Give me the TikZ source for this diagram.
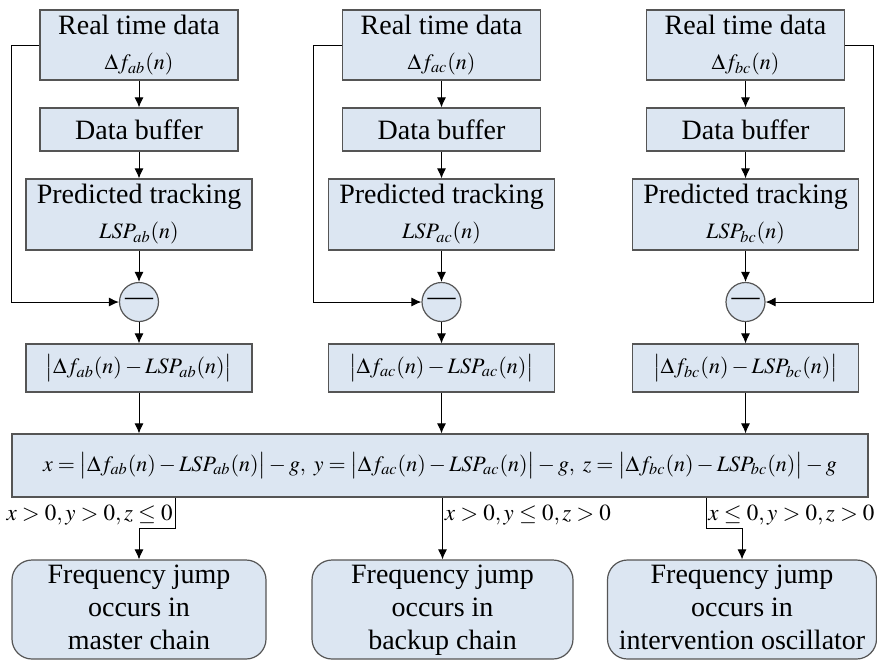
\documentclass[tikz,border=0pt]{standalone}
\usepackage{mathptmx}
\usepackage[no-math]{fontspec}
\setmainfont{Liberation Serif}
\usepackage{amssymb}
\usepackage{tikz}
\usetikzlibrary{arrows.meta}
\definecolor{boxfill}{RGB}{220,230,242}
\definecolor{boxline}{RGB}{85,85,85}

% formulas are set smaller than the running text
\newcommand{\eqsize}{\fontsize{11pt}{13pt}\selectfont}
\newcommand{\condsize}{\fontsize{11.5pt}{13pt}\selectfont}

\tikzset{
	blk/.style={draw=boxline, fill=boxfill, line width=0.6pt, align=center, inner sep=0pt},
	endblk/.style={blk, rounded corners=10pt},
	minus/.style={circle, draw=boxline, fill=boxfill, line width=0.6pt, minimum size=19.5pt, inner sep=0pt},
	arr/.style={-{Latex[length=5pt,width=4.5pt]}, line width=0.5pt},
	cond/.style={inner sep=1pt, font=\condsize}
}

\begin{document}
\begin{tikzpicture}[x=0.5pt, y=-0.5pt, font=\fontsize{14pt}{16.5pt}\selectfont]
	\useasboundingbox (0,0) rectangle (877,660);

	% channel ab
	\node[blk, minimum width=99pt, minimum height=35pt] (rt1) at (139,45) {Real time data\\[1pt] {\eqsize$\Delta f_{ab}(n)$}};
	\node[blk, minimum width=99pt, minimum height=21.5pt] (buf1) at (139,129.5) {Data buffer};
	\node[blk, minimum width=113pt, minimum height=35.5pt] (pt1) at (139,214.5) {Predicted tracking\\[1pt] {\eqsize$LSP_{ab}(n)$}};
	\node[minus] (sub1) at (139,302) {---};
	\node[blk, minimum width=113pt, minimum height=24pt] (abs1) at (139,368) {\eqsize$\bigl|\Delta f_{ab}(n)-LSP_{ab}(n)\bigr|$};

	% channel ac
	\node[blk, minimum width=99pt, minimum height=35pt] (rt2) at (441.5,45) {Real time data\\[1pt] {\eqsize$\Delta f_{ac}(n)$}};
	\node[blk, minimum width=99pt, minimum height=21.5pt] (buf2) at (441.5,129.5) {Data buffer};
	\node[blk, minimum width=113pt, minimum height=35.5pt] (pt2) at (441.5,214.5) {Predicted tracking\\[1pt] {\eqsize$LSP_{ac}(n)$}};
	\node[minus] (sub2) at (441.5,302) {---};
	\node[blk, minimum width=113pt, minimum height=24pt] (abs2) at (441.5,368) {\eqsize$\bigl|\Delta f_{ac}(n)-LSP_{ac}(n)\bigr|$};

	% channel bc
	\node[blk, minimum width=99pt, minimum height=35pt] (rt3) at (745.5,45) {Real time data\\[1pt] {\eqsize$\Delta f_{bc}(n)$}};
	\node[blk, minimum width=99pt, minimum height=21.5pt] (buf3) at (745.5,129.5) {Data buffer};
	\node[blk, minimum width=113pt, minimum height=35.5pt] (pt3) at (745.5,214.5) {Predicted tracking\\[1pt] {\eqsize$LSP_{bc}(n)$}};
	\node[minus] (sub3) at (745.5,302) {---};
	\node[blk, minimum width=113pt, minimum height=24pt] (abs3) at (745.5,368) {\eqsize$\bigl|\Delta f_{bc}(n)-LSP_{bc}(n)\bigr|$};

	% decision
	\node[blk, minimum width=428pt, minimum height=31.5pt] (dec) at (440,465.5)
		{\eqsize$x=\bigl|\Delta f_{ab}(n)-LSP_{ab}(n)\bigr|-g,\ y=\bigl|\Delta f_{ac}(n)-LSP_{ac}(n)\bigr|-g,\ z=\bigl|\Delta f_{bc}(n)-LSP_{bc}(n)\bigr|-g$};

	% outcomes
	\node[endblk, minimum width=127pt, minimum height=49.5pt] (out1) at (139,609.5) {Frequency jump\strut\\ occurs in\strut\\ master chain\strut};
	\node[endblk, minimum width=130.5pt, minimum height=49.5pt] (out2) at (442.5,609.5) {Frequency jump\strut\\ occurs in\strut\\ backup chain\strut};
	\node[endblk, minimum width=134.5pt, minimum height=49.5pt] (out3) at (742,609.5) {Frequency jump\strut\\ occurs in\strut\\ intervention oscillator\strut};

	\coordinate (br1) at (175,528);
	\coordinate (br3) at (706,528);

	% forward path
	\foreach \i in {1,2,3}{
		\draw[arr] (rt\i) -- (buf\i);
		\draw[arr] (buf\i) -- (pt\i);
		\draw[arr] (pt\i) -- (sub\i);
		\draw[arr] (sub\i) -- (abs\i);
		\draw[arr] (abs\i.south) -- (abs\i.south |- dec.north);
	}

	% feedback of the real time data
	\draw[arr] (rt1.west) -- ++(-28,0) |- (sub1.west);
	\draw[arr] (rt2.west) -- ++(-28,0) |- (sub2.west);
	\draw[arr] (rt3.east) -- ++(28,0) |- (sub3.east);

	% branches
	\draw[arr] (dec.south -| br1) -- (br1) -| (out1.north);
	\draw[arr] (dec.south -| out2.north) -- (out2.north);
	\draw[arr] (dec.south -| br3) -- (br3) -| (out3.north);

	\node[cond, anchor=south east] at (br1) {$x>0, y>0, z\leq 0$};
	\node[cond, anchor=south west] at (442.5,528) {$x>0, y\leq 0, z>0$};
	\node[cond, anchor=south west] at (br3) {$x\leq 0, y>0, z>0$};
\end{tikzpicture}
\end{document}
